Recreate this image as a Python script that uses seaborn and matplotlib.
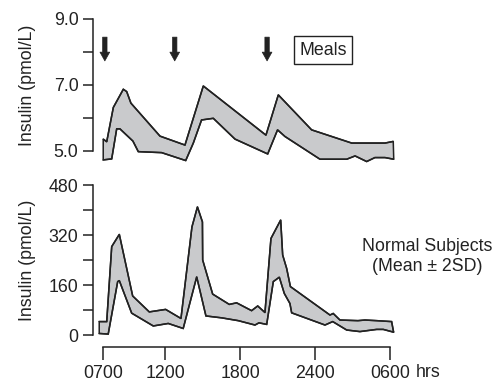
import numpy as np
import matplotlib
matplotlib.use('Agg')
import matplotlib.pyplot as plt
import seaborn as sns

# time in hours after 0700
top_hi_t = [0.02, 0.30, 0.83, 1.63, 1.90, 2.24, 4.57, 6.57, 8.04, 13.06, 14.05, 16.72, 19.93, 22.6, 23.26]
top_hi_v = [5.36, 5.28, 6.32, 6.87, 6.80, 6.45, 5.45, 5.18, 6.97, 5.48, 6.70, 5.64, 5.24, 5.24, 5.29]
top_lo_t = [0.02, 0.70, 1.10, 1.36, 2.40, 2.83, 4.70, 6.63, 7.24, 7.90, 8.84, 10.58, 13.2, 13.99, 14.58,
            17.39, 19.53, 20.2, 21.13, 21.79, 22.6, 23.3]
top_lo_v = [4.73, 4.76, 5.67, 5.67, 5.30, 4.98, 4.95, 4.71, 5.24, 5.94, 5.99, 5.36, 4.91, 5.64, 5.44,
            4.75, 4.75, 4.85, 4.68, 4.80, 4.80, 4.75]

bot_hi_t = [-0.30, 0.30, 0.70, 1.31, 2.38, 3.71, 5.02, 6.25, 7.13, 7.57, 7.97, 7.99, 8.79, 10.12, 10.71,
            11.91, 12.40, 12.98, 13.46, 14.24, 14.40, 14.72, 15.02, 18.19, 18.45, 18.99, 20.43, 20.99,
            21.93, 23.13, 23.28]
bot_hi_v = [43, 43, 283, 322, 125, 74, 82, 53, 346, 410, 362, 240, 131, 98, 103,
            78, 93, 72, 309, 368, 256, 213, 155, 64, 69, 48, 46, 48,
            46, 43, 11]
bot_lo_t = [-0.30, 0.42, 1.18, 1.31, 2.30, 4.03, 5.23, 6.43, 7.51, 8.25, 9.51, 10.84, 12.18, 12.50, 13.12,
            13.65, 14.13, 14.53, 14.98, 15.12, 17.79, 18.41, 19.53, 20.59, 21.93, 22.46, 23.3]
bot_lo_v = [5, 3, 171, 174, 70, 29, 37, 21, 186, 61, 55, 46, 32, 39, 34,
            171, 185, 133, 101, 71, 32, 43, 16, 11, 18, 18, 9]

meal_times = [0.15, 5.75, 13.15]

xticks = [0, 5, 11, 17, 23]
xlabels = ['0700', '1200', '1800', '2400', '0600']

sns.set_theme(style='ticks')
plt.rcParams['font.family'] = ['Liberation Sans', 'DejaVu Sans']
ink = '#222222'
fs = 12.8

fig = plt.figure(figsize=(4.97, 3.86), dpi=100)
ax1 = fig.add_axes([0.1871, 0.5661, 0.6177, 0.3847])
ax2 = fig.add_axes([0.1871, 0.1199, 0.6177, 0.4008])


def band(ax, ht, hv, lt, lv):
    xs = list(ht) + list(lt)[::-1]
    ys = list(hv) + list(lv)[::-1]
    ax.fill(xs, ys, facecolor='#c9cacc', edgecolor=ink, lw=1.1, zorder=2)
    sns.lineplot(x=ht, y=hv, ax=ax, color=ink, lw=1.1, sort=False, estimator=None, zorder=3)
    sns.lineplot(x=lt, y=lv, ax=ax, color=ink, lw=1.1, sort=False, estimator=None, zorder=3)


band(ax1, top_hi_t, top_hi_v, top_lo_t, top_lo_v)
band(ax2, bot_hi_t, bot_hi_v, bot_lo_t, bot_lo_v)

for ax in (ax1, ax2):
    ax.set_xlim(-0.8, 23.8)
    ax.spines['top'].set_visible(False)
    ax.spines['right'].set_visible(False)
    ax.spines['left'].set_color(ink)
    ax.spines['left'].set_linewidth(1.1)
    ax.tick_params(axis='both', which='both', length=7.5, width=1.1, color=ink,
                   labelcolor=ink, labelsize=fs, pad=3)
    ax.set_ylabel('Insulin (pmol/L)', fontsize=fs, color=ink)

# top panel
ax1.set_ylim(4.5, 9.0)
ax1.spines['left'].set_bounds(5, 9)
ax1.spines['bottom'].set_visible(False)
ax1.set_yticks([5, 7, 9])
ax1.set_yticklabels(['5.0', '7.0', '9.0'])
ax1.set_yticks([6, 8], minor=True)
ax1.set_xticks([])
ax1.yaxis.set_label_coords(-0.186, 0.555)
for t in meal_times:
    ax1.annotate('', xy=(t, 7.73), xytext=(t, 8.45),
                 arrowprops=dict(arrowstyle='simple,head_width=1.0,head_length=0.9,tail_width=0.45',
                                 fc=ink, ec=ink, lw=0.5, mutation_scale=7, shrinkA=0, shrinkB=0))
ax1.text(17.63, 8.06, 'Meals', fontsize=fs, color=ink, ha='center', va='center',
         bbox=dict(boxstyle='square,pad=0.3', fc='white', ec=ink, lw=1.0))

# bottom panel
ax2.set_ylim(-15, 480)
ax2.spines['left'].set_bounds(0, 480)
ax2.set_yticks([0, 160, 320, 480])
ax2.set_yticks([80, 240, 400], minor=True)
ax2.set_xticks(xticks)
ax2.set_xticklabels(xlabels)
ax2.spines['bottom'].set_position(('outward', 5.3))
ax2.spines['bottom'].set_bounds(0, 23)
ax2.spines['bottom'].set_color(ink)
ax2.spines['bottom'].set_linewidth(1.1)
ax2.tick_params(axis='x', length=9.5, pad=3.5)
ax2.yaxis.set_label_coords(-0.186, 0.515)
ax2.annotate('hrs', xy=(23, 0), xycoords=ax2.get_xaxis_transform(),
             xytext=(18.5, -23.8), textcoords='offset points', ha='left', va='center',
             fontsize=fs, color=ink)
ax2.text(1.088, 0.538, 'Normal Subjects\n(Mean \u00b1 2SD)', transform=ax2.transAxes,
         ha='center', va='center', fontsize=fs, color=ink, linespacing=1.25)

fig.savefig('out.png', dpi=100)
